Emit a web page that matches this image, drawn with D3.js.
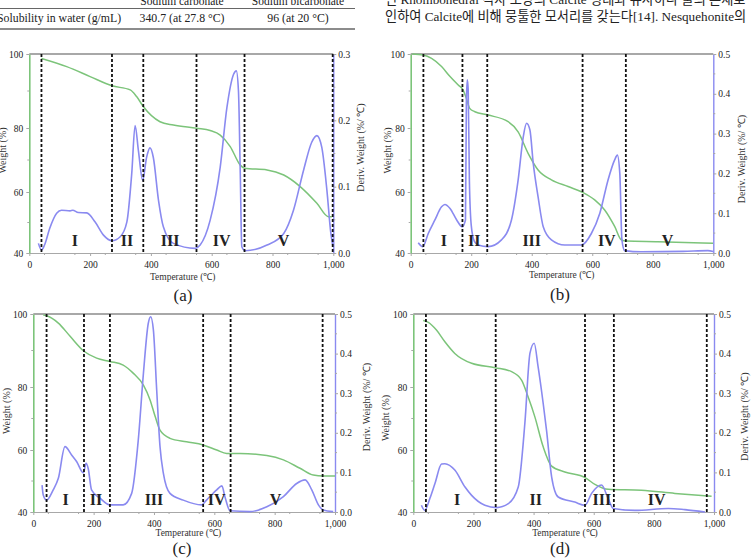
<!DOCTYPE html>
<html><head><meta charset="utf-8">
<script src="https://cdn.jsdelivr.net/npm/d3@7"></script>
<style>body{margin:0;background:#fff;overflow:hidden} svg{display:block}</style>
</head><body><svg id="c" width="751" height="559"></svg>
<script>
// ---------- data ----------
const tableHeader = ["Sodium carbonate", "Sodium bicarbonate"];
const tableRow = ["Solubility in water (g/mL)", "340.7 (at 27.8 \u00B0C)", "96 (at 20 \u00B0C)"];
const koreanLines = [
  "\uC778 Rhombohedral \uACA9\uC790 \uBAA8\uC591\uC758 Calcite \uD615\uD0DC\uC640 \uC720\uC0AC\uD558\uB098 \uBB3C\uC758 \uC874\uC7AC\uB85C",
  "\uC778\uD558\uC5EC Calcite\uC5D0 \uBE44\uD574 \uBB49\uD234\uD55C \uBAA8\uC11C\uB9AC\uB97C \uAC16\uB294\uB2E4[14]. Nesquehonite\uC758"
];
const panelCaptions = ["(a)", "(b)", "(c)", "(d)"];
const tempTicks = [0, 200, 400, 600, 800, 1000];
const weightTicks = [40, 60, 80, 100];
const derivTicksA = [0, 0.1, 0.2, 0.3];
const derivTicks = [0, 0.1, 0.2, 0.3, 0.4, 0.5];

// panel (a)
const tempWA = [40,123,200,272,332,353,375,430,474,551,595,628,661,694,708,782,837,891,946,984,995];
const weightA = [98.8,96.6,93.9,91.4,90.3,88.5,85.8,81.7,80.8,79.9,79.2,77.8,74.2,68.4,67.4,66.9,65.3,61.7,56.3,51.9,51.9];
const tempDA = [30,40,50,67,90,106,134,143,161,189,216,244,272,299,321,337,348,359,373,386,397,408,425,441,474,546,562,595,628,650,672,681,688,694,699,710,782,837,869,902,929,946,962,979,992,998];
const derivA = [0.0145,0.0045,0.012,0.037,0.06,0.0645,0.0635,0.0645,0.061,0.0605,0.047,0.027,0.0185,0.0245,0.047,0.12,0.192,0.154,0.1095,0.1445,0.1585,0.144,0.0795,0.0395,0.0145,0.007,0.012,0.0495,0.1295,0.219,0.2695,0.2745,0.2445,0.12,0.0095,0.0035,0.012,0.0295,0.0645,0.1245,0.167,0.177,0.1595,0.0945,0.0295,0.012];
const boundsA = [40,272,375,550,708,998];
const regionsA = ["I","II","III","IV","V"];
const regionPosA = [150,321,463,633,836];

// panel (b)
const tempWB = [5,42,69,102,130,157,173,184,195,212,256,322,355,388,421,465,520,570,608,641,674,696,713,817,999];
const weightB = [100,99.7,98.8,96.6,93.9,91.6,90.3,88,85.3,84.4,83.5,81.7,78.8,72.1,66.9,63.8,61.7,59.8,57.4,54.1,48.7,44.3,43.9,43.7,43.2];
const tempDB = [25,40,58,80,102,113,130,152,170,181,184,187,190,194,200,210,223,256,300,333,355,372,383,394,405,421,438,465,509,564,597,625,652,674,683,691,698,707,762,900,982,1000];
const derivB = [0.026,0.016,0.049,0.083,0.116,0.122,0.112,0.083,0.066,0.083,0.38,0.435,0.41,0.18,0.07,0.03,0.02,0.016,0.033,0.083,0.183,0.292,0.326,0.309,0.225,0.141,0.066,0.033,0.02,0.02,0.049,0.1,0.183,0.234,0.246,0.2,0.033,0.006,0.003,0.004,0.006,0.004];
const boundsB = [42,171,253,568,711];
const regionsB = ["I","II","III","IV","V"];
const regionPosB = [110,210,400,648,849];

// panel (c)
const tempWC = [33,44,83,122,168,210,254,298,331,365,387,404,420,453,508,563,608,641,685,774,829,884,928,961,1000];
const weightC = [99.7,99.5,97.5,93.9,89.8,87.9,87.0,86.0,83.8,80.5,75.9,70.6,66.3,63.7,62.6,61.6,60,58.9,58.9,58.2,56.8,54.1,51.9,51.6,51.6];
const tempDC = [29,33,44,66,83,105,127,144,166,175,182,193,221,254,298,326,348,365,381,389,398,409,420,431,453,497,558,574,608,625,635,652,718,774,829,873,901,923,945,961,994];
const derivC = [0.068,0.043,0.030,0.056,0.085,0.165,0.144,0.127,0.099,0.123,0.110,0.056,0.035,0.018,0.018,0.047,0.182,0.350,0.476,0.493,0.460,0.308,0.165,0.098,0.047,0.030,0.018,0.030,0.056,0.066,0.039,0.003,0.001,0.013,0.039,0.072,0.081,0.056,0.018,0.005,0.001];
const boundsC = [44,168,254,563,654,959];
const regionsC = ["I","II","III","IV","V"];
const regionPosC = [107,208,400,608,803];

// panel (d)
const tempWD = [33,50,77,105,138,194,272,327,360,382,404,432,460,504,571,604,648,759,870,992];
const weightD = [98.2,97.7,95.6,92.4,89.2,86.5,85.3,84.2,81.9,76.8,70.6,61.0,54.8,52.9,51.1,48.9,47.3,47.0,46.0,45.1];
const tempDD = [27,38,55,72,94,105,138,172,194,238,277,316,349,371,388,402,415,432,443,460,482,537,571,593,626,648,665,737,848,903,970];
const derivD = [0.017,0.004,0.034,0.072,0.121,0.122,0.106,0.063,0.042,0.017,0.011,0.021,0.063,0.224,0.401,0.426,0.367,0.274,0.207,0.089,0.038,0.025,0.017,0.047,0.068,0.034,0.009,0.004,0.009,0.006,0.0];
const boundsD = [42,274,571,667,976];
const regionsD = ["I","II","III","IV"];
const regionPosD = [146,407,627,809];

// ---------- layout ----------
const SERIF = "'Liberation Serif','Times New Roman',serif";
const GREEN = "#7cc47a", BLUE = "#8a8af0", GRAY = "#a8a8a8";
const svg = d3.select("#c");

const panels = [
  {x0:29.3, x1:333.3, top:54, bot:253, wR:[253,192,128,54], dMax:0.3, dTicks:derivTicksA,
   tw:tempWA, w:weightA, td:tempDA, d:derivA, b:boundsA, rl:regionsA, rp:regionPosA,
   wt:[6,150.5], dt:[363.5,147.5], tt:[182.7,280], cap:[183,301]},
  {x0:410.7, x1:713.3, top:54, bot:253, wR:[253,192,128,54], dMax:0.5, dTicks:derivTicks,
   tw:tempWB, w:weightB, td:tempDB, d:derivB, b:boundsB, rl:regionsB, rp:regionPosB,
   wt:[390.5,150.5], dt:[744.5,159], tt:[561.7,278], cap:[560,300]},
  {x0:33.3, x1:335, top:314, bot:512, wR:[512,450,387,314], dMax:0.5, dTicks:derivTicks,
   tw:tempWC, w:weightC, td:tempDC, d:derivC, b:boundsC, rl:regionsC, rp:regionPosC,
   wt:[9.5,411], dt:[370,407], tt:[188.3,535.5], cap:[182,554]},
  {x0:413.3, x1:714, top:314, bot:512, wR:[512,450,387,314], dMax:0.5, dTicks:derivTicks,
   tw:tempWD, w:weightD, td:tempDD, d:derivD, b:boundsD, rl:regionsD, rp:regionPosD,
   wt:[388.5,418], dt:[748,416.5], tt:[565,536], cap:[560,554]}
];

panels.forEach((p, i) => {
  const g = svg.append("g");
  const x = d3.scaleLinear().domain([0, 1000]).range([p.x0, p.x1]);
  const yW = d3.scaleLinear().domain(weightTicks).range(p.wR);
  const yD = d3.scaleLinear().domain([0, p.dMax]).range([p.bot, p.top]);

  g.append("line").attr("x1", p.x0).attr("x2", p.x1).attr("y1", p.top).attr("y2", p.top)
    .attr("stroke", GRAY).attr("stroke-width", 2);

  const xAxis = d3.axisBottom(x).tickValues(tempTicks).tickSize(3).tickSizeOuter(0).tickPadding(5);
  const gx = g.append("g").attr("transform", `translate(0,${p.bot})`).call(xAxis);
  gx.select(".domain").attr("stroke", GRAY).attr("stroke-width", 1.2);
  gx.selectAll(".tick line").attr("stroke", GRAY);
  gx.selectAll("text").attr("font-family", SERIF).attr("font-size", 9.5).attr("fill", "#222");
  g.append("g").selectAll("line").data(d3.range(50, 1000, 100)).join("line")
    .attr("x1", d => x(d)).attr("x2", d => x(d)).attr("y1", p.bot).attr("y2", p.bot + 2)
    .attr("stroke", GRAY);

  const yAxis = d3.axisLeft(yW).tickValues(weightTicks).tickSize(3).tickSizeOuter(0).tickPadding(3);
  const gy = g.append("g").attr("transform", `translate(${p.x0},0)`).call(yAxis);
  gy.select(".domain").attr("stroke", GREEN).attr("stroke-width", 1.6);
  gy.selectAll(".tick line").attr("stroke", GRAY);
  gy.selectAll("text").attr("font-family", SERIF).attr("font-size", 9.5).attr("fill", "#222");
  g.append("g").selectAll("line").data([50, 70, 90]).join("line")
    .attr("x1", p.x0 - 2).attr("x2", p.x0).attr("y1", d => yW(d)).attr("y2", d => yW(d))
    .attr("stroke", GRAY);

  const dAxis = d3.axisRight(yD).tickValues(p.dTicks).tickFormat(d3.format(".1f"))
    .tickSize(3).tickSizeOuter(0).tickPadding(2);
  const gd = g.append("g").attr("transform", `translate(${p.x1},0)`).call(dAxis);
  gd.select(".domain").attr("stroke", BLUE).attr("stroke-width", 1.4);
  gd.selectAll(".tick line").attr("stroke", GRAY);
  gd.selectAll("text").attr("font-family", SERIF).attr("font-size", 9.5).attr("fill", "#222");
  g.append("g").selectAll("line").data(d3.range(0.05, p.dMax, 0.1)).join("line")
    .attr("x1", p.x1).attr("x2", p.x1 + 2).attr("y1", d => yD(d)).attr("y2", d => yD(d))
    .attr("stroke", GRAY);

  const lineW = d3.line().x(d => x(d[0])).y(d => yW(d[1])).curve(d3.curveMonotoneX);
  const lineD = d3.line().x(d => x(d[0])).y(d => yD(d[1])).curve(d3.curveMonotoneX);
  g.append("path").datum(d3.zip(p.tw, p.w)).attr("d", lineW)
    .attr("fill", "none").attr("stroke", GREEN).attr("stroke-width", 1.5);
  g.append("path").datum(d3.zip(p.td, p.d)).attr("d", lineD)
    .attr("fill", "none").attr("stroke", BLUE).attr("stroke-width", 1.6);

  g.append("g").selectAll("line").data(p.b).join("line")
    .attr("x1", d => x(d)).attr("x2", d => x(d)).attr("y1", p.top).attr("y2", p.bot)
    .attr("stroke", "#111").attr("stroke-width", 1.8).attr("stroke-dasharray", "3,2");

  g.append("g").selectAll("text").data(d3.zip(p.rl, p.rp)).join("text")
    .attr("x", d => x(d[1])).attr("y", p.bot - 7)
    .attr("text-anchor", "middle").attr("font-family", SERIF).attr("font-weight", "bold")
    .attr("font-size", 16).attr("fill", "#222").text(d => d[0]);

  g.append("text").attr("transform", `translate(${p.wt[0]},${p.wt[1]}) rotate(-90)`)
    .attr("text-anchor", "middle").attr("font-family", SERIF).attr("font-size", 10)
    .attr("fill", "#333").text("Weight (%)");
  g.append("text").attr("transform", `translate(${p.dt[0]},${p.dt[1]}) rotate(-90)`)
    .attr("text-anchor", "middle").attr("font-family", SERIF).attr("font-size", 10)
    .attr("fill", "#333").text("Deriv. Weight (%/ \u2103)");
  g.append("text").attr("x", p.tt[0]).attr("y", p.tt[1])
    .attr("text-anchor", "middle").attr("font-family", SERIF).attr("font-size", 9.5)
    .attr("fill", "#333").text("Temperature (\u2103)");
  g.append("text").attr("x", p.cap[0]).attr("y", p.cap[1])
    .attr("text-anchor", "middle").attr("font-family", SERIF).attr("font-size", 17)
    .attr("fill", "#222").text(panelCaptions[i]);
});

// ---------- top fragments (table and paragraph) ----------
svg.append("g").selectAll("text").data(tableHeader).join("text")
  .attr("x", (d, i) => [182, 298][i]).attr("y", 5)
  .attr("text-anchor", "middle").attr("font-family", SERIF).attr("font-size", 11.5)
  .attr("fill", "#222").text(d => d);
svg.append("line").attr("x1", 0).attr("x2", 355).attr("y1", 8.5).attr("y2", 8.5)
  .attr("stroke", "#666").attr("stroke-width", 1);
svg.append("g").selectAll("text").data(tableRow).join("text")
  .attr("x", (d, i) => [-3, 182, 298][i]).attr("y", 22)
  .attr("text-anchor", (d, i) => i === 0 ? "start" : "middle")
  .attr("font-family", SERIF).attr("font-size", 11.8).attr("fill", "#222").text(d => d);
svg.append("line").attr("x1", 0).attr("x2", 355).attr("y1", 29).attr("y2", 29)
  .attr("stroke", "#666").attr("stroke-width", 1.5);

svg.append("g").selectAll("text").data(koreanLines).join("text")
  .attr("x", 385).attr("y", (d, i) => [4, 21][i])
  .attr("font-family", "'Liberation Serif','Noto Sans CJK KR',serif").attr("font-size", 13.2)
  .attr("fill", "#222").text(d => d);
</script>
</body></html>
